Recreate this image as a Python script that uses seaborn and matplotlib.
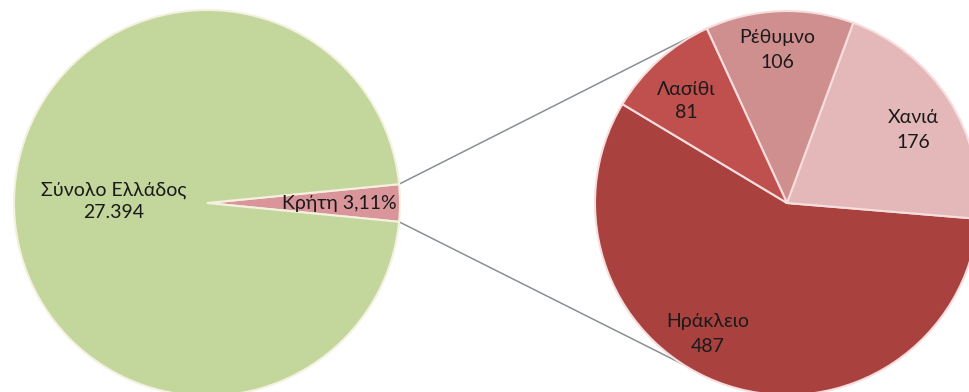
import matplotlib
matplotlib.use("Agg")
import matplotlib.pyplot as plt
import seaborn as sns
import numpy as np

# Primary pie: Crete's share of the national total
total_label = "Σύνολο Ελλάδος"
total_value_text = "27.394"
crete_label = "Κρήτη"
crete_share_pct = 3.11

# Secondary pie: breakdown of Crete by prefecture
prefectures = ["Ηράκλειο", "Χανιά", "Ρέθυμνο", "Λασίθι"]
prefecture_values = [487, 176, 106, 81]

sns.set_theme(style="white")
plt.rcParams["font.family"] = ["Lato", "DejaVu Sans"]

W, H = 970, 392
fig = plt.figure(figsize=(W / 100, H / 100), dpi=100)
ax = fig.add_axes([0, 0, 1, 1])
ax.set_xlim(0, W)
ax.set_ylim(0, H)
ax.set_aspect("equal")
ax.axis("off")

text_color = "#1a1a1a"
fs = 14

# ---- left pie ----
c1 = (207, 189)
r1 = 193
left_vals = [crete_share_pct, 100 - crete_share_pct]
half = crete_share_pct / 100 * 360 / 2
wedges1, _ = ax.pie(
    left_vals,
    colors=["#d9959a", "#c3d69b"],
    startangle=-half,
    counterclock=True,
    center=c1,
    radius=r1,
    frame=True,
    wedgeprops=dict(edgecolor="#f4f1e0", linewidth=1.5),
)
ax.text(114, H - 190, total_label, ha="center", va="center", fontsize=fs, color=text_color)
ax.text(114, H - 212, total_value_text, ha="center", va="center", fontsize=fs, color=text_color)
ax.text(339, H - 203, f"{crete_label} {crete_share_pct:.2f}%".replace(".", ","),
        ha="center", va="center", fontsize=fs, color=text_color)

# ---- right pie ----
c2 = (787, 189)
r2 = 192
right_colors = ["#a9413f", "#e4b8b8", "#cf8f8e", "#c0504d"]
wedges2, _ = ax.pie(
    prefecture_values,
    colors=right_colors,
    startangle=149,
    counterclock=True,
    center=c2,
    radius=r2,
    frame=True,
    wedgeprops=dict(edgecolor="#f6dede", linewidth=1.5),
)

label_pos = {
    "Ηράκλειο": (708, 322, 347),
    "Χανιά": (913, 117, 142),
    "Ρέθυμνο": (777, 37, 62),
    "Λασίθι": (686, 89, 112),
}
for name, val in zip(prefectures, prefecture_values):
    x, y1, y2 = label_pos[name]
    ax.text(x, H - y1, name, ha="center", va="center", fontsize=fs, color=text_color)
    ax.text(x, H - y2, f"{val}", ha="center", va="center", fontsize=fs, color=text_color)

# ---- connector lines ----
a_top = np.deg2rad(half)
a_bot = np.deg2rad(-half)
p1 = (c1[0] + r1 * np.cos(a_top), c1[1] + r1 * np.sin(a_top))
p2 = (c1[0] + r1 * np.cos(a_bot), c1[1] + r1 * np.sin(a_bot))
q1a, q2a = np.deg2rad(114.6), np.deg2rad(237)
q1 = (c2[0] + r2 * np.cos(q1a), c2[1] + r2 * np.sin(q1a))
q2 = (c2[0] + r2 * np.cos(q2a), c2[1] + r2 * np.sin(q2a))
ax.plot([p1[0], q1[0]], [p1[1], q1[1]], color="#8a8f94", lw=1.1, zorder=0)
ax.plot([p2[0], q2[0]], [p2[1], q2[1]], color="#8a8f94", lw=1.1, zorder=0)

ax.set_xlim(0, W)
ax.set_ylim(0, H)
fig.savefig("out.png", dpi=100, facecolor="white")
